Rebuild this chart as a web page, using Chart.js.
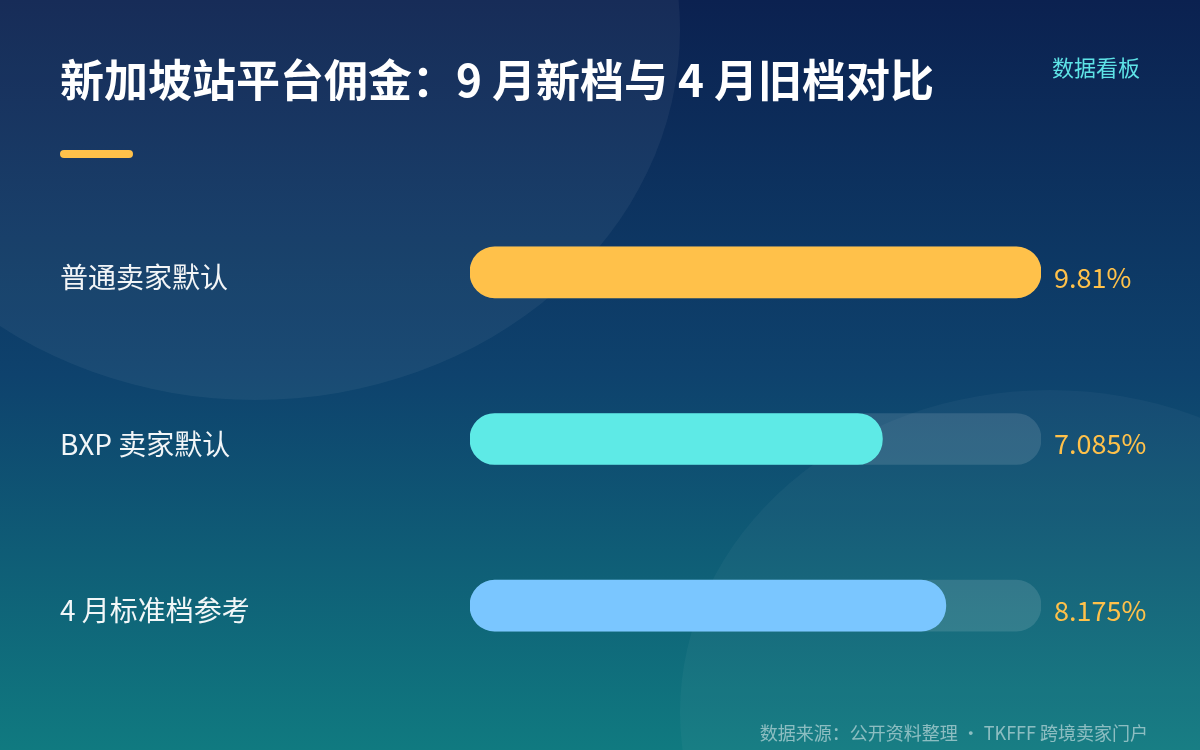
<!DOCTYPE html>
<html>
<head>
<meta charset="utf-8">
<script src="https://cdn.jsdelivr.net/npm/chart.js@4.4.1/dist/chart.umd.min.js"></script>
<style>
  html, body { margin: 0; padding: 0; background: #0b2150; }
  #wrap { width: 1200px; height: 750px; position: relative; }
  canvas { display: block; }
</style>
</head>
<body>
<div id="wrap"><canvas id="c" width="1200" height="750"></canvas></div>
<script>
const titleText = '新加坡站平台佣金：9 月新档与 4 月旧档对比';
const badgeText = '数据看板';
const footerText = '数据来源：公开资料整理 · TKFFF 跨境卖家门户';

const categories = ['普通卖家默认', 'BXP 卖家默认', '4 月标准档参考'];
const values = [9.81, 7.085, 8.175];
const valueLabels = ['9.81%', '7.085%', '8.175%'];
const barColors = ['#FFC14A', '#5EEAE6', '#7AC6FF'];

const scaleMax = Math.max(...values);
const trackValues = values.map(() => scaleMax);

const FONT = '"Noto Sans CJK SC", "Noto Sans", sans-serif';

const decorPlugin = {
  id: 'decor',
  beforeDraw(chart) {
    const ctx = chart.ctx;
    const W = chart.width, H = chart.height;
    ctx.save();
    const g = ctx.createLinearGradient(0, 0, 0, H);
    g.addColorStop(0, '#0b2150');
    g.addColorStop(0.5, '#0e426d');
    g.addColorStop(1, '#107a80');
    ctx.fillStyle = g;
    ctx.fillRect(0, 0, W, H);
    ctx.fillStyle = 'rgba(255,255,255,0.05)';
    ctx.beginPath();
    ctx.ellipse(255, 30, 425, 370, 0, 0, Math.PI * 2);
    ctx.fill();
    ctx.fillStyle = 'rgba(255,255,255,0.035)';
    ctx.beginPath();
    ctx.ellipse(1050, 712, 370, 322, 0, 0, Math.PI * 2);
    ctx.fill();

    // title
    ctx.fillStyle = '#ffffff';
    ctx.font = 'bold 44px ' + FONT;
    ctx.textAlign = 'left';
    ctx.textBaseline = 'middle';
    ctx.fillText(titleText, 60, 80);

    // badge
    ctx.fillStyle = '#5EE3E6';
    ctx.font = '22px ' + FONT;
    ctx.textAlign = 'right';
    ctx.fillText(badgeText, 1140, 68);

    // accent line
    ctx.fillStyle = '#FFC14A';
    ctx.beginPath();
    ctx.roundRect(60, 150, 73, 8, 4);
    ctx.fill();
    ctx.restore();
  },
  afterDatasetsDraw(chart) {
    const ctx = chart.ctx;
    const y = chart.scales.y;
    const area = chart.chartArea;
    ctx.save();
    ctx.textBaseline = 'middle';
    categories.forEach((cat, i) => {
      const py = y.getPixelForValue(i);
      ctx.fillStyle = 'rgba(255,255,255,0.95)';
      ctx.font = '28px ' + FONT;
      ctx.textAlign = 'left';
      ctx.fillText(cat, 60, py + 5);
      ctx.fillStyle = '#FFC14A';
      ctx.font = '27px ' + FONT;
      ctx.fillText(valueLabels[i], area.right + 13, py + 5);
    });
    ctx.fillStyle = 'rgba(255,255,255,0.5)';
    ctx.font = '18px ' + FONT;
    ctx.textAlign = 'right';
    ctx.fillText(footerText, 1148, 733);
    ctx.restore();
  }
};

new Chart(document.getElementById('c'), {
  type: 'bar',
  data: {
    labels: categories,
    datasets: [
      {
        label: 'value',
        data: values,
        backgroundColor: barColors,
        borderRadius: 25,
        borderSkipped: false,
        barThickness: 51,
        grouped: false,
        order: 1
      },
      {
        label: 'track',
        data: trackValues,
        backgroundColor: 'rgba(255,255,255,0.12)',
        borderRadius: 25,
        borderSkipped: false,
        barThickness: 51,
        grouped: false,
        order: 2
      }
    ]
  },
  options: {
    indexAxis: 'y',
    responsive: false,
    animation: false,
    devicePixelRatio: 1,
    layout: { padding: { left: 470, right: 159, top: 189, bottom: 61 } },
    scales: {
      x: { display: false, min: 0, max: scaleMax },
      y: { display: false }
    },
    plugins: { legend: { display: false }, tooltip: { enabled: false } }
  },
  plugins: [decorPlugin]
});
</script>
</body>
</html>
